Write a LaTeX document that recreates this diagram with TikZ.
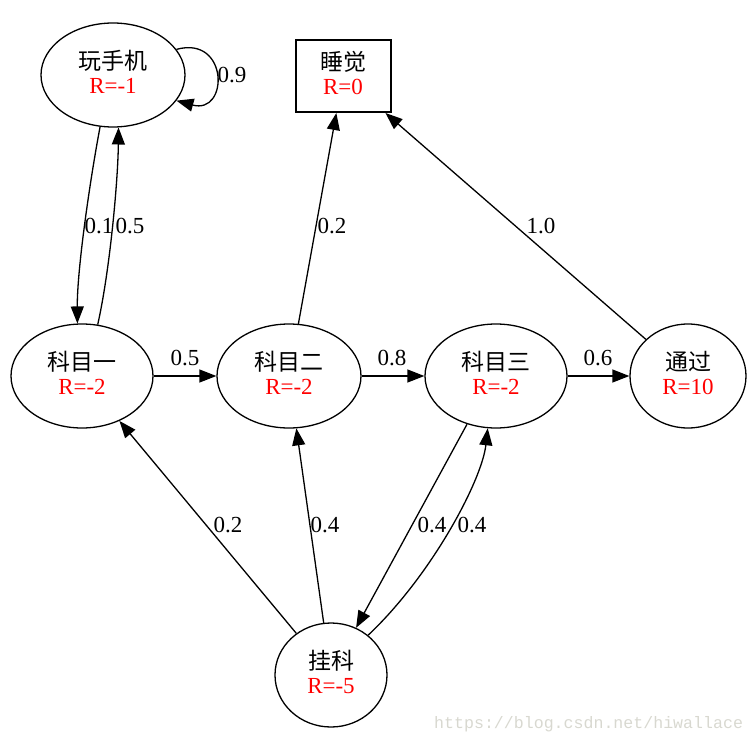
\documentclass[tikz,border=0pt]{standalone}
\usepackage{fontspec}
\setmainfont{Liberation Serif}
\newfontfamily\cjk{Noto Sans CJK SC}
\newfontfamily\wmfont{Liberation Mono}
\usetikzlibrary{shapes.geometric,arrows.meta}
\definecolor{wmgray}{RGB}{216,216,208}
\newcommand{\dnstrut}{\rule[-6pt]{0pt}{0pt}}
\begin{document}
\begin{tikzpicture}[x=1pt,y=-1pt,
  every node/.style={font=\fontsize{23}{24}\selectfont},
  st/.style={ellipse,draw,line width=1.3pt,inner sep=0pt,align=center,minimum height=104pt},
  term/.style={rectangle,draw,line width=2pt,inner sep=0pt,minimum width=95pt,minimum height=72pt,align=center},
  arr/.style={line width=1.3pt,-{Triangle[length=17pt,width=13pt]}},
  lbl/.style={anchor=base,inner sep=0pt}
]
\useasboundingbox (0,0) rectangle (755,741);

\node[st,minimum width=144pt] (wsj) at (113,75) {{\cjk 玩手机}\\{\color{red}R=-1}\dnstrut};
\node[term] (sj) at (343,76) {{\cjk 睡觉}\\{\color{red}R=0}\dnstrut};
\node[st,minimum width=142pt] (km1) at (82,376) {{\cjk 科目一}\\{\color{red}R=-2}\dnstrut};
\node[st,minimum width=144pt] (km2) at (289,376) {{\cjk 科目二}\\{\color{red}R=-2}\dnstrut};
\node[st,minimum width=142pt] (km3) at (496,376) {{\cjk 科目三}\\{\color{red}R=-2}\dnstrut};
\node[st,minimum width=116pt] (tg) at (688,376) {{\cjk 通过}\\{\color{red}R=10}\dnstrut};
\node[st,minimum width=112pt] (gk) at (331,675) {{\cjk 挂科}\\{\color{red}R=-5}\dnstrut};

% self loop
\draw[arr] (wsj.22) .. controls (229,35) and (229,115) .. (wsj.-22);
% play <-> subject one
\draw[arr] (wsj.256) .. controls (90,180) and (77,270) .. (km1.95);
\draw[arr] (km1.73) .. controls (110,270) and (118,180) .. (wsj.276);
% to sleep
\draw[arr] (km2) -- (sj);
\draw[arr] (tg) -- (sj);
% chain
\draw[arr] (km1) -- (km2);
\draw[arr] (km2) -- (km3);
\draw[arr] (km3) -- (tg);
% fail
\draw[arr] (gk) -- (km1);
\draw[arr] (gk) -- (km2);
\draw[arr] (km3.239.7) -- (gk.62.5);
\draw[arr] (gk.47) .. controls (432,575) and (482,480) .. (km3.261);

% labels
\node[lbl] (l09) at (232,83) {0.9};
\node[lbl] (l01) at (99,233) {0.1};
\node[lbl] (l05a) at (130,233) {0.5};
\node[lbl] (l02a) at (332,233) {0.2};
\node[lbl] (l10) at (541,233) {1.0};
\node[lbl] (l05b) at (185,365) {0.5};
\node[lbl] (l08) at (392,365) {0.8};
\node[lbl] (l06) at (598,365) {0.6};
\node[lbl] (l02b) at (228,532) {0.2};
\node[lbl] (l04a) at (325,532) {0.4};
\node[lbl] (l04b) at (432,532) {0.4};
\node[lbl] (l04c) at (472,532) {0.4};

\node[anchor=base west,inner sep=0pt,font=\wmfont\fontsize{16.6}{18}\selectfont,text=wmgray] (wm) at (434,728) {https://blog.csdn.net/hiwallace};
\end{tikzpicture}
\end{document}
